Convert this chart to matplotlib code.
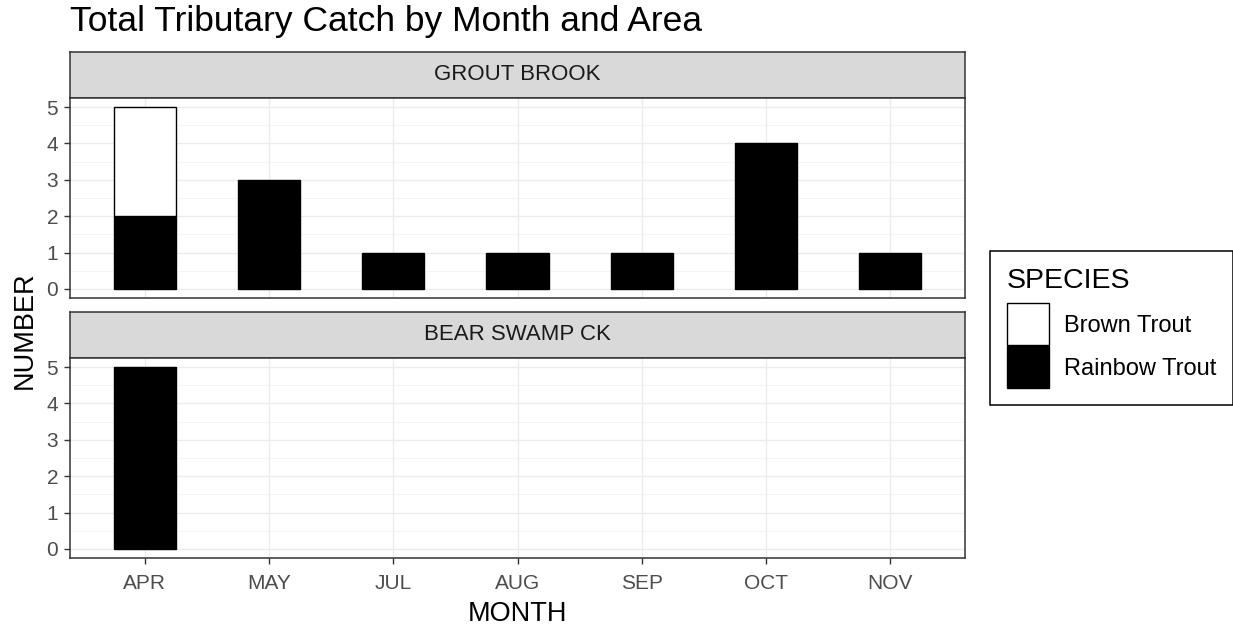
import numpy as np
import matplotlib.pyplot as plt
from matplotlib.patches import Patch

plt.rcParams['font.family'] = ['Liberation Sans', 'DejaVu Sans']

months = ['APR', 'MAY', 'JUL', 'AUG', 'SEP', 'OCT', 'NOV']
areas = ['GROUT BROOK', 'BEAR SWAMP CK']
species = ['Brown Trout', 'Rainbow Trout']
fills = {'Brown Trout': 'white', 'Rainbow Trout': 'black'}
# catch counts per area, per species
rainbow = {'GROUT BROOK': [2, 3, 1, 1, 1, 4, 1],
           'BEAR SWAMP CK': [5, 0, 0, 0, 0, 0, 0]}
brown = {'GROUT BROOK': [3, 0, 0, 0, 0, 0, 0],
         'BEAR SWAMP CK': [0, 0, 0, 0, 0, 0, 0]}

W, H = 1233, 632
fig = plt.figure(figsize=(W / 100, H / 100), dpi=100)

def box(x0, y0, x1, y1):
    return [x0 / W, 1 - y1 / H, (x1 - x0) / W, (y1 - y0) / H]

panels = [(52, 98, 298), (312, 358, 558)]
x0, x1 = 70, 965
edge = '#333333'
ymax = 5
for i, (area, (s0, p0, p1)) in enumerate(zip(areas, panels)):
    # strip
    st = fig.add_axes(box(x0, s0, x1, p0))
    st.set_facecolor('#D9D9D9')
    st.set_xticks([])
    st.set_yticks([])
    for sp in st.spines.values():
        sp.set_color(edge)
        sp.set_linewidth(1.1)
    st.text(0.5, 0.5, area, ha='center', va='center', fontsize=16,
            color='#1A1A1A', transform=st.transAxes)

    ax = fig.add_axes(box(x0, p0, x1, p1))
    x = np.arange(1, len(months) + 1)
    r = np.array(rainbow[area], dtype=float)
    b = np.array(brown[area], dtype=float)
    m = r > 0
    ax.bar(x[m], r[m], width=0.5, color=fills['Rainbow Trout'],
           edgecolor='black', linewidth=1, zorder=3)
    m = b > 0
    ax.bar(x[m], b[m], bottom=r[m], width=0.5, color=fills['Brown Trout'],
           edgecolor='black', linewidth=1, zorder=3)
    ax.set_xlim(0.4, len(months) + 0.6)
    ax.set_ylim(-0.05 * ymax, 1.05 * ymax)
    ax.set_yticks(range(0, 6))
    ax.set_yticks(np.arange(0.5, 5.5, 1), minor=True)
    ax.set_xticks(x)
    ax.grid(True, which='major', color='#EBEBEB', linewidth=1.0, zorder=0)
    ax.grid(True, which='minor', axis='y', color='#F2F2F2', linewidth=0.6, zorder=0)
    ax.tick_params(which='minor', length=0)
    ax.tick_params(which='major', length=4.5, color=edge, labelsize=15,
                   labelcolor='#4D4D4D', width=1, pad=4)
    ax.tick_params(axis='x', pad=7)
    if i == 0:
        ax.set_xticklabels([])
        ax.tick_params(axis='x', length=0)
    else:
        ax.set_xticklabels(months)
    for sp in ax.spines.values():
        sp.set_color(edge)
        sp.set_linewidth(1.1)
    ax.set_axisbelow(True)

fig.text(70 / W, 1 - 22 / H, 'Total Tributary Catch by Month and Area',
         fontsize=25.5, ha='left', va='center', color='black')
fig.text(517 / W, 1 - 614 / H, 'MONTH', fontsize=19.5, ha='center', va='center')
fig.text(25 / W, 1 - 330 / H, 'NUMBER', fontsize=19.5, ha='center', va='center',
         rotation=90)

handles = [Patch(facecolor=fills[s], edgecolor='black', linewidth=1, label=s)
           for s in species]
leg = fig.legend(handles=handles, title='SPECIES', loc='center left',
                 bbox_to_anchor=(990 / W, 1 - 328 / H), fontsize=17,
                 title_fontsize=20.5, handlelength=1.78, handleheight=2.36,
                 fancybox=False, edgecolor='black', framealpha=1,
                 borderpad=0.7, labelspacing=0.05, handletextpad=0.65,
                 borderaxespad=0)
leg._legend_box.align = 'left'
leg._legend_box.sep = 7
leg.get_frame().set_linewidth(1.1)

fig.savefig('out.png', dpi=100)
